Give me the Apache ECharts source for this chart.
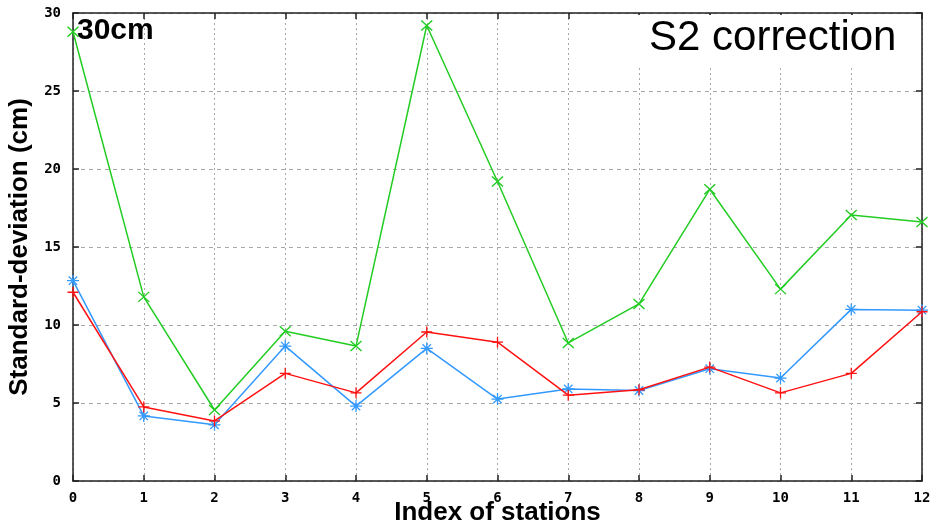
<!DOCTYPE html>
<html>
<head>
<meta charset="utf-8">
<script src="https://cdn.jsdelivr.net/npm/echarts@6/dist/echarts.min.js"></script>
<style>html,body{margin:0;padding:0;background:#fff}#c{width:935px;height:526px}</style>
</head>
<body>
<div id="c"></div>
<script>
const stations = [0,1,2,3,4,5,6,7,8,9,10,11,12];
const greenVals = [28.8,11.8,4.55,9.6,8.65,29.2,19.2,8.85,11.35,18.7,12.3,17.05,16.6];
const blueVals  = [12.84,4.17,3.6,8.65,4.8,8.5,5.25,5.9,5.8,7.2,6.6,11.0,10.95];
const redVals   = [12.1,4.75,3.85,6.9,5.65,9.55,8.9,5.5,5.85,7.3,5.65,6.9,10.85];
const yTicks = [0,5,10,15,20,25,30];

const pairs = v => stations.map((s,i)=>[s,v[i]]);
const tickFont = {fontFamily:'DejaVu Sans Mono', fontWeight:'bold', fontSize:14, color:'#000'};
const axLine = {show:true, onZero:false, lineStyle:{color:'#222', width:1.5}};
const tick = {show:true, inside:true, length:6, lineStyle:{color:'#222', width:1.5}};

const chart = echarts.init(document.getElementById('c'));
chart.setOption({
  animation:false,
  backgroundColor:'#fff',
  grid:{left:73, right:13, top:13, bottom:45, containLabel:false, outerBoundsMode:'none'},
  xAxis:[
    {type:'value', min:0, max:12, interval:1, position:'bottom',
     axisLine:axLine, axisTick:tick,
     axisLabel:Object.assign({margin:10}, tickFont),
     splitLine:{show:true, lineStyle:{color:'#a8a8a8', type:[2,3], width:1}},
     name:'Index of stations', nameLocation:'middle', nameGap:19, nameMoveOverlap:false,
     nameTextStyle:{fontFamily:'Liberation Sans', fontWeight:'bold', fontSize:26, color:'#000'}},
    {type:'value', min:0, max:12, interval:1, position:'top',
     axisLine:axLine, axisTick:tick, axisLabel:{show:false}, splitLine:{show:false}}
  ],
  yAxis:[
    {type:'value', min:0, max:30, interval:5, position:'left',
     axisLine:axLine, axisTick:tick,
     axisLabel:Object.assign({margin:12, formatter:v=>yTicks.includes(v)?String(v):''}, tickFont),
     splitLine:{show:true, lineStyle:{color:'#a8a8a8', type:[4,4], width:1}},
     name:'Standard-deviation (cm)', nameLocation:'middle', nameGap:40, nameMoveOverlap:false,
     nameTextStyle:{fontFamily:'Liberation Sans', fontWeight:'bold', fontSize:26, color:'#000'}},
    {type:'value', min:0, max:30, interval:5, position:'right',
     axisLine:axLine, axisTick:tick, axisLabel:{show:false}, splitLine:{show:false}}
  ],
  graphic:[
    {type:'rect', z:100, shape:{x:628, y:15, width:292, height:53}, style:{fill:'#fff'}},
    {type:'text', z:101, left:649, top:17, style:{text:'S2 correction', font:'42px "Liberation Sans"', fill:'#000'}},
    {type:'text', z:101, left:77, top:16, style:{text:'30cm', font:'bold 30px "Liberation Sans"', fill:'#000'}}
  ],
  series:[
    {type:'line', data:pairs(greenVals), symbol:'path://M0,0L10,10M10,0L0,10', symbolSize:[11,10],
     lineStyle:{color:'#22cc22', width:1.5}, itemStyle:{color:'#22cc22', borderColor:'#22cc22', borderWidth:1.3}, z:3},
    {type:'line', data:pairs(blueVals), symbol:'path://M5,0L5,10M0,5L10,5M1.5,1.5L8.5,8.5M8.5,1.5L1.5,8.5', symbolSize:12,
     lineStyle:{color:'#3399ff', width:1.5}, itemStyle:{color:'#3399ff', borderColor:'#3399ff', borderWidth:1.3}, z:4},
    {type:'line', data:pairs(redVals), symbol:'path://M5,0L5,10M0,5L10,5', symbolSize:11,
     lineStyle:{color:'#ff1111', width:1.5}, itemStyle:{color:'#ff1111', borderColor:'#ff1111', borderWidth:1.3}, z:5}
  ]
});
</script>
</body>
</html>
